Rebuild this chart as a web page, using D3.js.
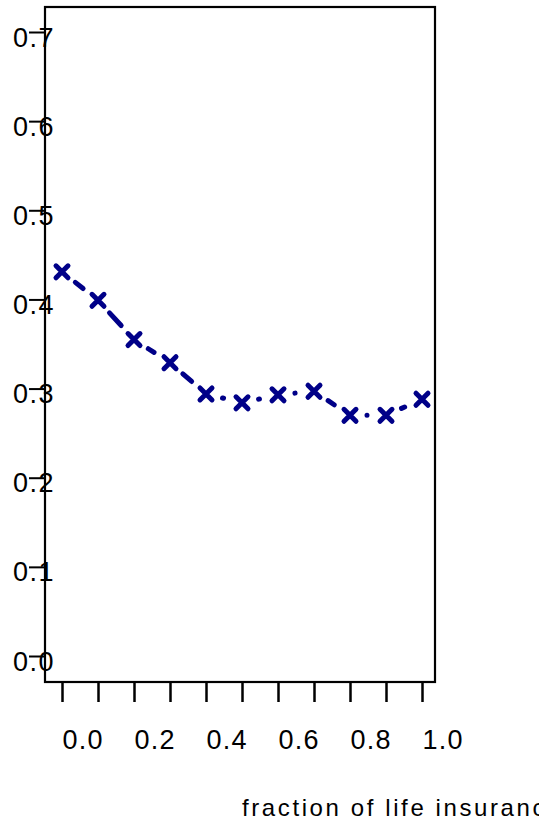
<!DOCTYPE html>
<html>
<head>
<meta charset="utf-8">
<script src="https://cdn.jsdelivr.net/npm/d3@7"></script>
<style>
  html, body { margin: 0; padding: 0; background: #fff; }
  svg { display: block; }
  text { font-family: "Liberation Sans", Arial, sans-serif; fill: #000; }
</style>
</head>
<body>
<script>
// ---- data ----
const categories = ["0.0","0.1","0.2","0.3","0.4","0.5","0.6","0.7","0.8","0.9","1.0"];
const values = [0.431, 0.399, 0.355, 0.329, 0.294, 0.284, 0.293, 0.297, 0.270, 0.270, 0.288];
const xTickLabels = ["0.0","0.2","0.4","0.6","0.8","1.0"];
const yTicks = [0.0, 0.1, 0.2, 0.3, 0.4, 0.5, 0.6, 0.7];
const xTitle = "fraction of life insurance";

// ---- layout ----
const W = 548, H = 826;
const frame = { left: 45, right: 435, top: 7, bottom: 682 };
const color = "#000088";

const svg = d3.select("body").append("svg").attr("width", W).attr("height", H);

const x = d3.scalePoint().domain(categories).range([62, 422]);
const y = d3.scaleLinear().domain([0, 0.7]).range([656, 32]);

// frame
svg.append("rect")
  .attr("x", frame.left).attr("y", frame.top)
  .attr("width", frame.right - frame.left).attr("height", frame.bottom - frame.top)
  .attr("fill", "none").attr("stroke", "#000").attr("stroke-width", 2.2);

// x axis
const xAxis = d3.axisBottom(x).tickSize(20).tickSizeOuter(0)
  .tickFormat(d => xTickLabels.includes(d) ? d : "");
const gx = svg.append("g").attr("transform", `translate(0,${frame.bottom})`).call(xAxis);
gx.select(".domain").remove();
gx.selectAll(".tick line").attr("stroke", "#000").attr("stroke-width", 2.5);
gx.selectAll(".tick text")
  .attr("text-anchor", "start").attr("dy", null).attr("y", 67)
  .attr("font-size", 27).style("letter-spacing", "1.2px").attr("fill", "#000");

// y axis
const yAxis = d3.axisLeft(y).tickValues(yTicks).tickSize(16).tickSizeOuter(0)
  .tickFormat(d3.format(".1f"));
const gy = svg.append("g").attr("transform", `translate(${frame.left},0)`).call(yAxis);
gy.select(".domain").remove();
gy.selectAll(".tick line").attr("stroke", "#000").attr("stroke-width", 2);
gy.selectAll(".tick text")
  .attr("text-anchor", "start").attr("x", -32).attr("dy", null).attr("y", 14)
  .attr("font-size", 27).style("letter-spacing", "1.5px").attr("fill", "#000");
gy.raise();

// line segments with gaps around markers
const pts = values.map((v, i) => [x(categories[i]), y(v)]);
const gap = 17;
const segs = d3.pairs(pts);
svg.append("g").selectAll("path").data(segs).join("path")
  .attr("d", d => d3.line()(d))
  .attr("fill", "none")
  .attr("stroke", color)
  .attr("stroke-width", 5)
  .attr("stroke-linecap", "round")
  .attr("stroke-dasharray", d => {
    const L = Math.hypot(d[1][0] - d[0][0], d[1][1] - d[0][1]);
    const dash = Math.max(L - 2 * gap - 2, 0);
    return `0 ${gap} ${dash} ${L * 2}`;
  });

// markers
const s = 6;
svg.append("g").selectAll("path").data(pts).join("path")
  .attr("transform", d => `translate(${d[0]},${d[1]})`)
  .attr("d", `M${-s},${-s}L${s},${s}M${-s},${s}L${s},${-s}`)
  .attr("stroke", color).attr("stroke-width", 5).attr("stroke-linecap", "round")
  .attr("fill", "none");

// axis title (clipped at the right edge like the reference)
svg.append("clipPath").attr("id", "clipTitle")
  .append("rect").attr("x", 0).attr("y", 0).attr("width", 539).attr("height", H);
svg.append("text")
  .attr("clip-path", "url(#clipTitle)")
  .attr("x", 242).attr("y", 816)
  .attr("font-size", 24).style("letter-spacing", "2.6px")
  .text(xTitle);
</script>
</body>
</html>
